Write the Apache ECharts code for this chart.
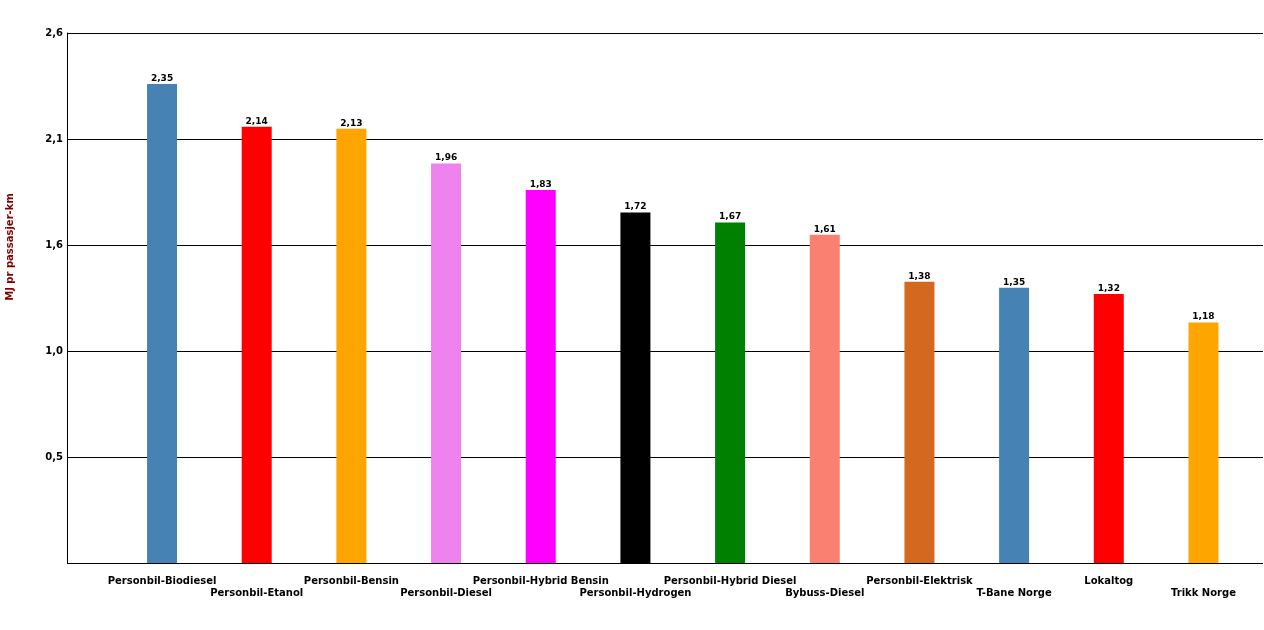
<!DOCTYPE html>
<html><head><meta charset="utf-8">
<script src="https://cdn.jsdelivr.net/npm/echarts@6/dist/echarts.min.js"></script>
<style>html,body{margin:0;padding:0;background:#fff}#c{width:1264px;height:630px}</style>
</head><body><div id="c"></div>
<script>
var categories = ["Personbil-Biodiesel","Personbil-Etanol","Personbil-Bensin","Personbil-Diesel","Personbil-Hybrid Bensin","Personbil-Hydrogen","Personbil-Hybrid Diesel","Bybuss-Diesel","Personbil-Elektrisk","T-Bane Norge","Lokaltog","Trikk Norge"];
var values = [2.35, 2.14, 2.13, 1.96, 1.83, 1.72, 1.67, 1.61, 1.38, 1.35, 1.32, 1.18];
var colors = ["#4682B4","#FF0000","#FFA500","#EE82EE","#FF00FF","#000000","#008000","#FA8072","#D2691E","#4682B4","#FF0000","#FFA500"];
var yTitle = "MJ pr passasjer-km";
var yMax = 2.6, yStep = 0.52;
var font = "DejaVu Sans";
var chart = echarts.init(document.getElementById('c'));
chart.setOption({
  animation:false,
  backgroundColor:'#fff',
  grid:[{left:67,right:1,top:33,bottom:67},{left:114.7,right:13.2,top:33,bottom:67}],
  xAxis:[
    {type:'category',gridIndex:0,data:categories,show:false},
    {type:'category',gridIndex:1,data:categories,axisLine:{show:false},axisTick:{show:false},
     axisLabel:{interval:0,margin:12,color:'#000',fontWeight:'bold',fontSize:10,fontFamily:font,lineHeight:12,
       formatter:function(v,i){return i%2===1?'\n'+v:v;}}}
  ],
  yAxis:[
    {type:'value',gridIndex:0,min:0,max:yMax,interval:yStep,
     axisLine:{show:true,lineStyle:{color:'#000',width:1}},axisTick:{show:false},
     splitLine:{show:true,lineStyle:{color:'#000',width:1}},
     axisLabel:{margin:4,color:'#000',fontWeight:'bold',fontSize:10,fontFamily:font,
       formatter:function(v){return v===0?'':v.toFixed(1).replace('.',',');}}},
    {type:'value',gridIndex:1,min:0,max:yMax,interval:yStep,show:false,splitLine:{show:false}}
  ],
  graphic:[{type:'text',x:10,y:247,rotation:Math.PI/2,
    style:{text:yTitle,fill:'#800000',font:'bold 10px "DejaVu Sans"',textAlign:'center',textVerticalAlign:'middle'}}],
  series:[{type:'bar',xAxisIndex:1,yAxisIndex:1,barWidth:30,
    data:values.map(function(v,i){return {value:v,itemStyle:{color:colors[i]}};}),
    label:{show:true,position:'top',distance:1,color:'#000',fontWeight:'bold',fontSize:9,fontFamily:font,
      formatter:function(p){return p.value.toFixed(2).replace('.',',');}}}]
});
</script></body></html>
